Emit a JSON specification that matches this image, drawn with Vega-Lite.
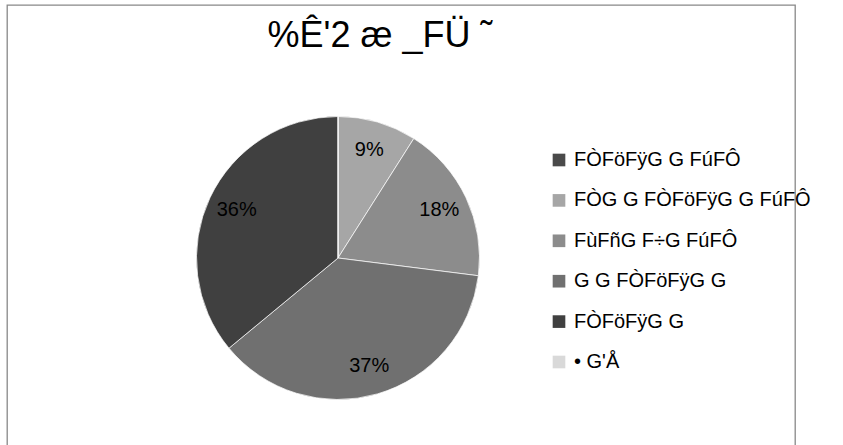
{
  "$schema": "https://vega.github.io/schema/vega-lite/v6.json",
  "autosize": "none",
  "width": 788,
  "height": 506,
  "padding": {"left": 7, "top": 5, "right": 48, "bottom": -66},
  "background": "white",
  "view": {"stroke": "#888888", "strokeWidth": 1.3},
  "title": {
    "text": "%Ê'2 æ _FÜ ˜",
    "font": "Liberation Sans",
    "fontSize": 36,
    "fontWeight": "normal",
    "color": "#000000",
    "anchor": "middle",
    "baseline": "alphabetic",
    "offset": -78,
    "dx": -21
  },
  "data": {
    "values": [
      {"i": 1, "cat": "FÒFöFÿG G FúFÔ", "value": 0},
      {"i": 2, "cat": "FÒG G FÒFöFÿG G FúFÔ", "value": 0.09},
      {"i": 3, "cat": "FùFñG F÷G FúFÔ", "value": 0.18},
      {"i": 4, "cat": "G G FÒFöFÿG G", "value": 0.37},
      {"i": 5, "cat": "FÒFöFÿG G", "value": 0.36},
      {"i": 6, "cat": "• G'Å", "value": 0}
    ]
  },
  "encoding": {
    "theta": {"field": "value", "type": "quantitative", "stack": true},
    "order": {"field": "i", "type": "quantitative"}
  },
  "layer": [
    {
      "mark": {"type": "arc", "radius": 141.5, "stroke": "#ffffff", "strokeWidth": 0.7, "xOffset": -63},
      "encoding": {
        "color": {
          "field": "cat",
          "type": "nominal",
          "scale": {
            "domain": ["FÒFöFÿG G FúFÔ", "FÒG G FÒFöFÿG G FúFÔ", "FùFñG F÷G FúFÔ", "G G FÒFöFÿG G", "FÒFöFÿG G", "• G'Å"],
            "range": ["#4a4a4a", "#a6a6a6", "#8c8c8c", "#707070", "#404040", "#d9d9d9"]
          },
          "legend": {
            "title": null,
            "orient": "none",
            "legendX": 542,
            "legendY": 145,
            "symbolType": "square",
            "symbolSize": 160,
            "symbolStrokeWidth": 0,
            "labelFont": "Liberation Sans",
            "labelFontSize": 20,
            "labelColor": "#000000",
            "labelLimit": 400,
            "labelOffset": 5,
            "rowPadding": 20.4
          }
        }
      }
    },
    {
      "transform": [{"filter": "datum.value > 0"}],
      "mark": {"type": "text", "radius": 112, "font": "Liberation Sans", "fontSize": 20, "color": "#000000", "xOffset": -63},
      "encoding": {
        "text": {"field": "value", "type": "quantitative", "format": ".0%"}
      }
    }
  ]
}
